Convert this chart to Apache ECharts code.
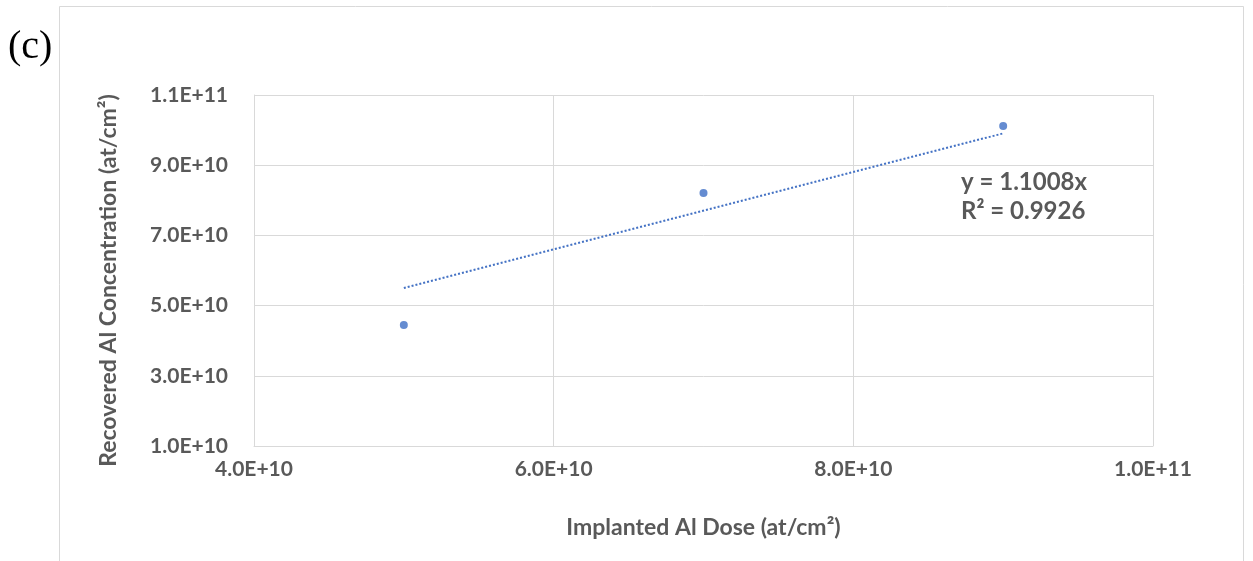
<!DOCTYPE html>
<html>
<head>
<meta charset="utf-8">
<script src="https://cdn.jsdelivr.net/npm/echarts@6/dist/echarts.min.js"></script>
<style>
html,body{margin:0;padding:0;background:#fff;}
#chart{width:1253px;height:561px;}
</style>
</head>
<body>
<div id="chart"></div>
<script>
// Data
const doseX = [5.0e10, 7.0e10, 9.0e10];
const recoveredY = [4.45e10, 8.21e10, 1.012e11];
const trendX = [5.0e10, 9.0e10];
const trendY = [5.504e10, 9.907e10];
const xTicks = [4.0e10, 6.0e10, 8.0e10, 1.0e11];
const yTicks = [1.0e10, 3.0e10, 5.0e10, 7.0e10, 9.0e10, 1.1e11];
const equationLines = ['y = 1.1008x', 'R² = 0.9926'];
const panelLabel = '(c)';
const xTitle = 'Implanted Al Dose (at/cm²)';
const yTitle = 'Recovered Al Concentration (at/cm²)';

const fmt = v => v.toExponential(1).replace('e', 'E');
const gridGray = '#d9d9d9';
const textGray = '#595959';
const blue = '#4472C4';
const font = 'Lato, "Open Sans", sans-serif';

const chart = echarts.init(document.getElementById('chart'));
chart.setOption({
  animation: false,
  backgroundColor: '#fff',
  grid: { left: 254, right: 100, top: 95, bottom: 115 },
  xAxis: {
    type: 'value',
    min: xTicks[0], max: xTicks[xTicks.length - 1], interval: xTicks[1] - xTicks[0],
    axisLine: { show: true, lineStyle: { color: gridGray, width: 1 } },
    axisTick: { show: false },
    splitLine: { show: true, lineStyle: { color: gridGray, width: 1 } },
    axisLabel: { formatter: fmt, color: textGray, fontFamily: font, fontWeight: 'bold', fontSize: 21, margin: 13 },
    name: xTitle, nameLocation: 'middle', nameGap: 70,
    nameTextStyle: { color: textGray, fontFamily: font, fontWeight: 'bold', fontSize: 23 }
  },
  yAxis: {
    type: 'value',
    min: yTicks[0], max: yTicks[yTicks.length - 1], interval: yTicks[1] - yTicks[0],
    axisLine: { show: true, lineStyle: { color: gridGray, width: 1 } },
    axisTick: { show: false },
    splitLine: { show: true, lineStyle: { color: gridGray, width: 1 } },
    axisLabel: { formatter: fmt, color: textGray, fontFamily: font, fontWeight: 'bold', fontSize: 21, margin: 26 },
    name: yTitle, nameLocation: 'middle', nameGap: 134,
    nameTextStyle: { color: textGray, fontFamily: font, fontWeight: 'bold', fontSize: 23, padding: [0, 20, 0, 0] }
  },
  series: [
    {
      type: 'line',
      data: trendX.map((x, i) => [x, trendY[i]]),
      symbol: 'none',
      lineStyle: { color: blue, width: 2, type: [2, 2] },
      z: 2
    },
    {
      type: 'scatter',
      data: doseX.map((x, i) => [x, recoveredY[i]]),
      symbolSize: 8,
      itemStyle: { color: '#3f6fc6' },
      z: 3
    }
  ],
  graphic: [
    {
      type: 'rect', shape: { x: 59.5, y: 6.5, width: 1184, height: 600 },
      style: { fill: 'none', stroke: gridGray, lineWidth: 1 }, z: -1, silent: true
    },
    {
      type: 'text', left: 8, top: 27,
      style: { text: panelLabel, font: '40px "Liberation Serif", "Times New Roman", serif', fill: '#000' }
    },
    {
      type: 'text', left: 961, top: 168,
      style: { text: equationLines.join('\n'), font: 'bold 24px ' + font, fill: textGray, lineHeight: 29 }
    }
  ]
});
</script>
</body>
</html>
